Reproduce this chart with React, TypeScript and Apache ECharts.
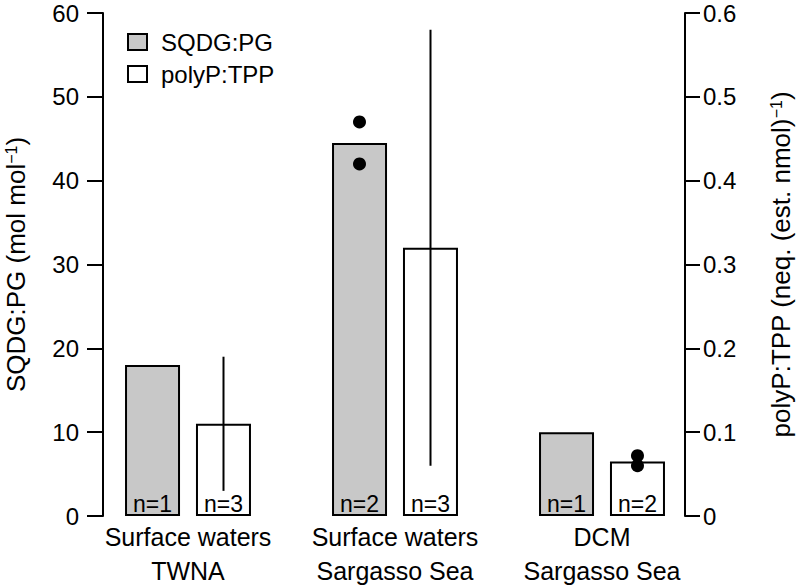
import React, { useEffect, useRef } from "react";
import * as echarts from "echarts";

const categories = ["Surface waters\nTWNA", "Surface waters\nSargasso Sea", "DCM\nSargasso Sea"];
const sqdgValues = [18, 44.5, 10];
const polypValues = [0.11, 0.32, 0.065];
const sqdgN = [1, 2, 1];
const polypN = [3, 3, 2];
// [categoryIndex, value]
const sqdgPoints = [
  [1, 47],
  [1, 42],
];
const polypPoints = [
  [2, 0.072],
  [2, 0.06],
];
// [categoryIndex, low, high]
const polypRanges = [
  [0, 0.03, 0.19],
  [1, 0.06, 0.58],
];

const FONT = "'Liberation Sans', Arial, Helvetica, sans-serif";
const BAR_W = 55;
const BAR_OFFSET = 35.5;

export default function App() {
  const ref = useRef<HTMLDivElement>(null);
  useEffect(() => {
    if (!ref.current) return;
    const chart = echarts.init(ref.current, null, { renderer: "svg" });
    const lineRender = (offset: number) => (params: any, api: any) => {
      const x = api.value(0);
      const p1 = api.coord([x, api.value(1)]);
      const p2 = api.coord([x, api.value(2)]);
      return {
        type: "line",
        shape: { x1: p1[0] + offset, y1: p1[1], x2: p2[0] + offset, y2: p2[1] },
        style: { stroke: "#000", lineWidth: 2 },
      };
    };
    const dotRender = (offset: number) => (params: any, api: any) => {
      const p = api.coord([api.value(0), api.value(1)]);
      return {
        type: "circle",
        shape: { cx: p[0] + offset, cy: p[1], r: 6.5 },
        style: { fill: "#000" },
      };
    };
    const rich = {
      a: { fontSize: 26, lineHeight: 26, fontFamily: FONT, color: "#000" },
      s: { fontSize: 16, lineHeight: 26, verticalAlign: "top", fontFamily: FONT, color: "#000" },
    };
    chart.setOption({
      animation: false,
      textStyle: { fontFamily: FONT, color: "#000" },
      grid: {
        left: 84.5,
        right: 90.5,
        top: 13,
        bottom: 69,
        containLabel: false,
        outerBoundsMode: "none",
      },
      legend: {
        orient: "vertical",
        left: 127,
        top: 30,
        padding: 0,
        itemGap: 8,
        icon: "rect",
        itemWidth: 19,
        itemHeight: 16,
        itemStyle: { borderColor: "#000", borderWidth: 2 },
        textStyle: { fontSize: 24, color: "#000", fontFamily: FONT, padding: [0, 0, 0, 9] },
        data: ["SQDG:PG", "polyP:TPP"],
      },
      xAxis: {
        type: "category",
        data: categories,
        axisLine: { show: false },
        axisTick: { show: false },
        axisLabel: {
          fontSize: 25,
          lineHeight: 34,
          margin: 4,
          color: "#000",
          fontFamily: FONT,
          interval: 0,
        },
      },
      yAxis: [
        {
          type: "value",
          min: 0,
          max: 60,
          interval: 10,
          position: "left",
          offset: -18.5,
          splitLine: { show: false },
          axisLine: { show: true, lineStyle: { color: "#000", width: 2 } },
          axisTick: { show: true, length: 16, lineStyle: { color: "#000", width: 2 } },
          axisLabel: { fontSize: 24, lineHeight: 20, margin: 24, color: "#000", fontFamily: FONT },
          name: "{a|SQDG:PG (mol mol}{s|−1}{a|)}",
          nameLocation: "middle",
          nameRotate: 90,
          nameGap: 74,
          nameTextStyle: { fontFamily: FONT, color: "#000", fontSize: 26, rich },
        },
        {
          type: "value",
          min: 0,
          max: 0.6,
          interval: 0.1,
          position: "right",
          offset: -20.5,
          splitLine: { show: false },
          axisLine: { show: true, lineStyle: { color: "#000", width: 2 } },
          axisTick: { show: true, length: 15, lineStyle: { color: "#000", width: 2 } },
          axisLabel: { fontSize: 24, lineHeight: 20, margin: 18, color: "#000", fontFamily: FONT },
          name: "{a|polyP:TPP (neq. (est. nmol)}{s|−1}{a|)}",
          nameLocation: "middle",
          nameRotate: 90,
          nameGap: 83,
          nameTextStyle: { fontFamily: FONT, color: "#000", fontSize: 26, rich },
        },
      ],
      series: [
        {
          name: "SQDG:PG",
          type: "bar",
          yAxisIndex: 0,
          barWidth: BAR_W,
          barGap: "29%",
          data: sqdgValues,
          itemStyle: { color: "#c8c8c8", borderColor: "#000", borderWidth: 2 },
          label: {
            show: true,
            position: "insideBottom",
            distance: 1,
            fontSize: 23,
            color: "#000",
            fontFamily: FONT,
            formatter: (p: any) => "n=" + sqdgN[p.dataIndex],
          },
        },
        {
          name: "polyP:TPP",
          type: "bar",
          yAxisIndex: 1,
          barWidth: BAR_W,
          barGap: "29%",
          data: polypValues,
          itemStyle: { color: "#ffffff", borderColor: "#000", borderWidth: 2 },
          label: {
            show: true,
            position: "insideBottom",
            distance: 1,
            fontSize: 23,
            color: "#000",
            fontFamily: FONT,
            formatter: (p: any) => "n=" + polypN[p.dataIndex],
          },
        },
        {
          type: "custom",
          yAxisIndex: 1,
          z: 5,
          renderItem: lineRender(BAR_OFFSET),
          data: polypRanges,
          silent: true,
        },
        {
          type: "custom",
          yAxisIndex: 0,
          z: 6,
          renderItem: dotRender(-BAR_OFFSET),
          data: sqdgPoints,
          silent: true,
        },
        {
          type: "custom",
          yAxisIndex: 1,
          z: 6,
          renderItem: dotRender(BAR_OFFSET),
          data: polypPoints,
          silent: true,
        },
      ],
    });
    return () => chart.dispose();
  }, []);
  return (
    <div
      ref={ref}
      style={{ position: "absolute", left: 0, top: 0, width: 796, height: 585 }}
    />
  );
}
